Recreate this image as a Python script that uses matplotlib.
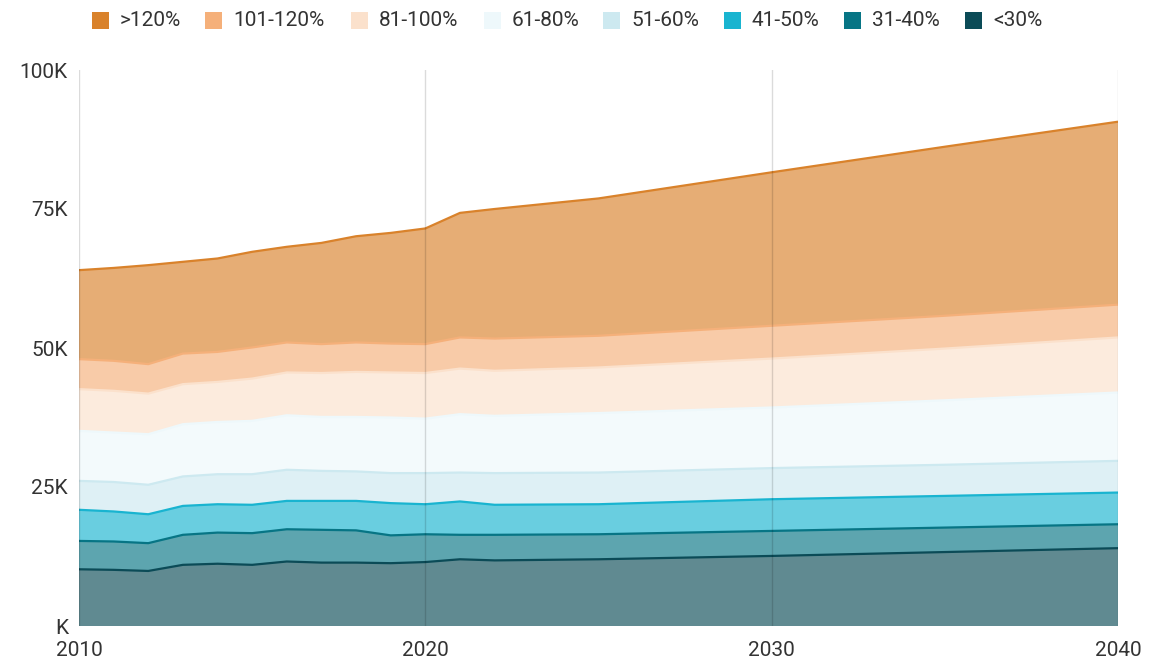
import matplotlib.pyplot as plt
import numpy as np
from matplotlib.patches import Rectangle

plt.rcParams['font.family'] = ['Roboto', 'DejaVu Sans']

# Households by income band (% of area median income), thousands
years = [2010, 2011, 2012, 2013, 2014, 2015, 2016, 2017, 2018, 2019, 2020,
         2021, 2022, 2025, 2030, 2035, 2040]
under_30 = [10.2, 10.1, 9.9, 11.0, 11.2, 11.0, 11.6, 11.4, 11.4, 11.3, 11.5,
            12.0, 11.8, 12.0, 12.6, 13.3, 14.0]
pct_31_40 = [5.1, 5.1, 5.0, 5.4, 5.6, 5.7, 5.8, 5.9, 5.8, 5.0, 5.0,
             4.4, 4.6, 4.5, 4.5, 4.4, 4.3]
pct_41_50 = [5.6, 5.4, 5.2, 5.2, 5.1, 5.1, 5.1, 5.2, 5.3, 5.8, 5.4,
             6.0, 5.4, 5.4, 5.7, 5.7, 5.7]
pct_51_60 = [5.2, 5.3, 5.3, 5.3, 5.4, 5.5, 5.6, 5.4, 5.3, 5.4, 5.6,
             5.2, 5.7, 5.7, 5.6, 5.6, 5.7]
pct_61_80 = [9.0, 8.9, 9.1, 9.4, 9.4, 9.6, 9.8, 9.7, 9.8, 10.0, 9.8,
             10.5, 10.3, 10.7, 10.9, 11.6, 12.3]
pct_81_100 = [7.5, 7.5, 7.3, 7.2, 7.2, 7.6, 7.7, 7.9, 8.1, 8.1, 8.2,
              8.2, 8.1, 8.2, 8.8, 9.3, 9.9]
pct_101_120 = [5.4, 5.4, 5.3, 5.5, 5.4, 5.6, 5.4, 5.2, 5.3, 5.2, 5.2,
               5.6, 5.8, 5.7, 5.9, 5.9, 5.9]
over_120 = [16.0, 16.7, 17.8, 16.5, 16.8, 17.2, 17.2, 18.2, 19.1, 19.9, 20.8,
            22.4, 23.3, 24.7, 27.6, 30.4, 32.9]

bands = ['<30%', '31-40%', '41-50%', '51-60%', '61-80%', '81-100%', '101-120%', '>120%']
colors = ['#0b4b57', '#077585', '#19b4d0', '#cde9f0', '#eef8fb', '#fbe1cc', '#f5b07a', '#d9822b']

values = np.vstack([under_30, pct_31_40, pct_41_50, pct_51_60,
                    pct_61_80, pct_81_100, pct_101_120, over_120])
tops = np.cumsum(values, axis=0)

W, H = 1168, 663
fig = plt.figure(figsize=(W / 100, H / 100), dpi=100)
ax = fig.add_axes([79 / W, 37 / H, 1039 / W, 556 / H])

ax.stackplot(years, values, colors=colors, alpha=0.65, lw=0)
for top, c in zip(tops, colors):
    ax.plot(years, top, color=c, lw=1.6, solid_capstyle='butt')

for yr in [2010, 2020, 2030, 2040]:
    ax.axvline(yr, color='black', alpha=0.14, lw=1, zorder=5)

ax.set_xlim(2010, 2040)
ax.set_ylim(0, 100)
ax.set_xticks([2010, 2020, 2030, 2040])
ax.set_yticks([0, 25, 50, 75, 100])
ax.set_yticklabels(['K', '25K', '50K', '75K', '100K'])
ax.tick_params(axis='both', length=0, labelsize=15, colors='#333333')
ax.tick_params(axis='y', pad=8)
ax.tick_params(axis='x', pad=11)
for s in ax.spines.values():
    s.set_visible(False)

# legend row across the top, highest band first
legend_x = [92, 205, 351, 484, 603, 724, 844, 965]
for x, label, c in zip(legend_x, bands[::-1], colors[::-1]):
    fig.patches.append(Rectangle((x / W, 1 - 29 / H), 17 / W, 17 / H,
                                 transform=fig.transFigure, facecolor=c, edgecolor='none'))
    fig.text((x + 28) / W, 1 - 21 / H, label, fontsize=15, color='#333333',
             ha='left', va='center')

fig.savefig('out.png', dpi=100)
plt.close(fig)
